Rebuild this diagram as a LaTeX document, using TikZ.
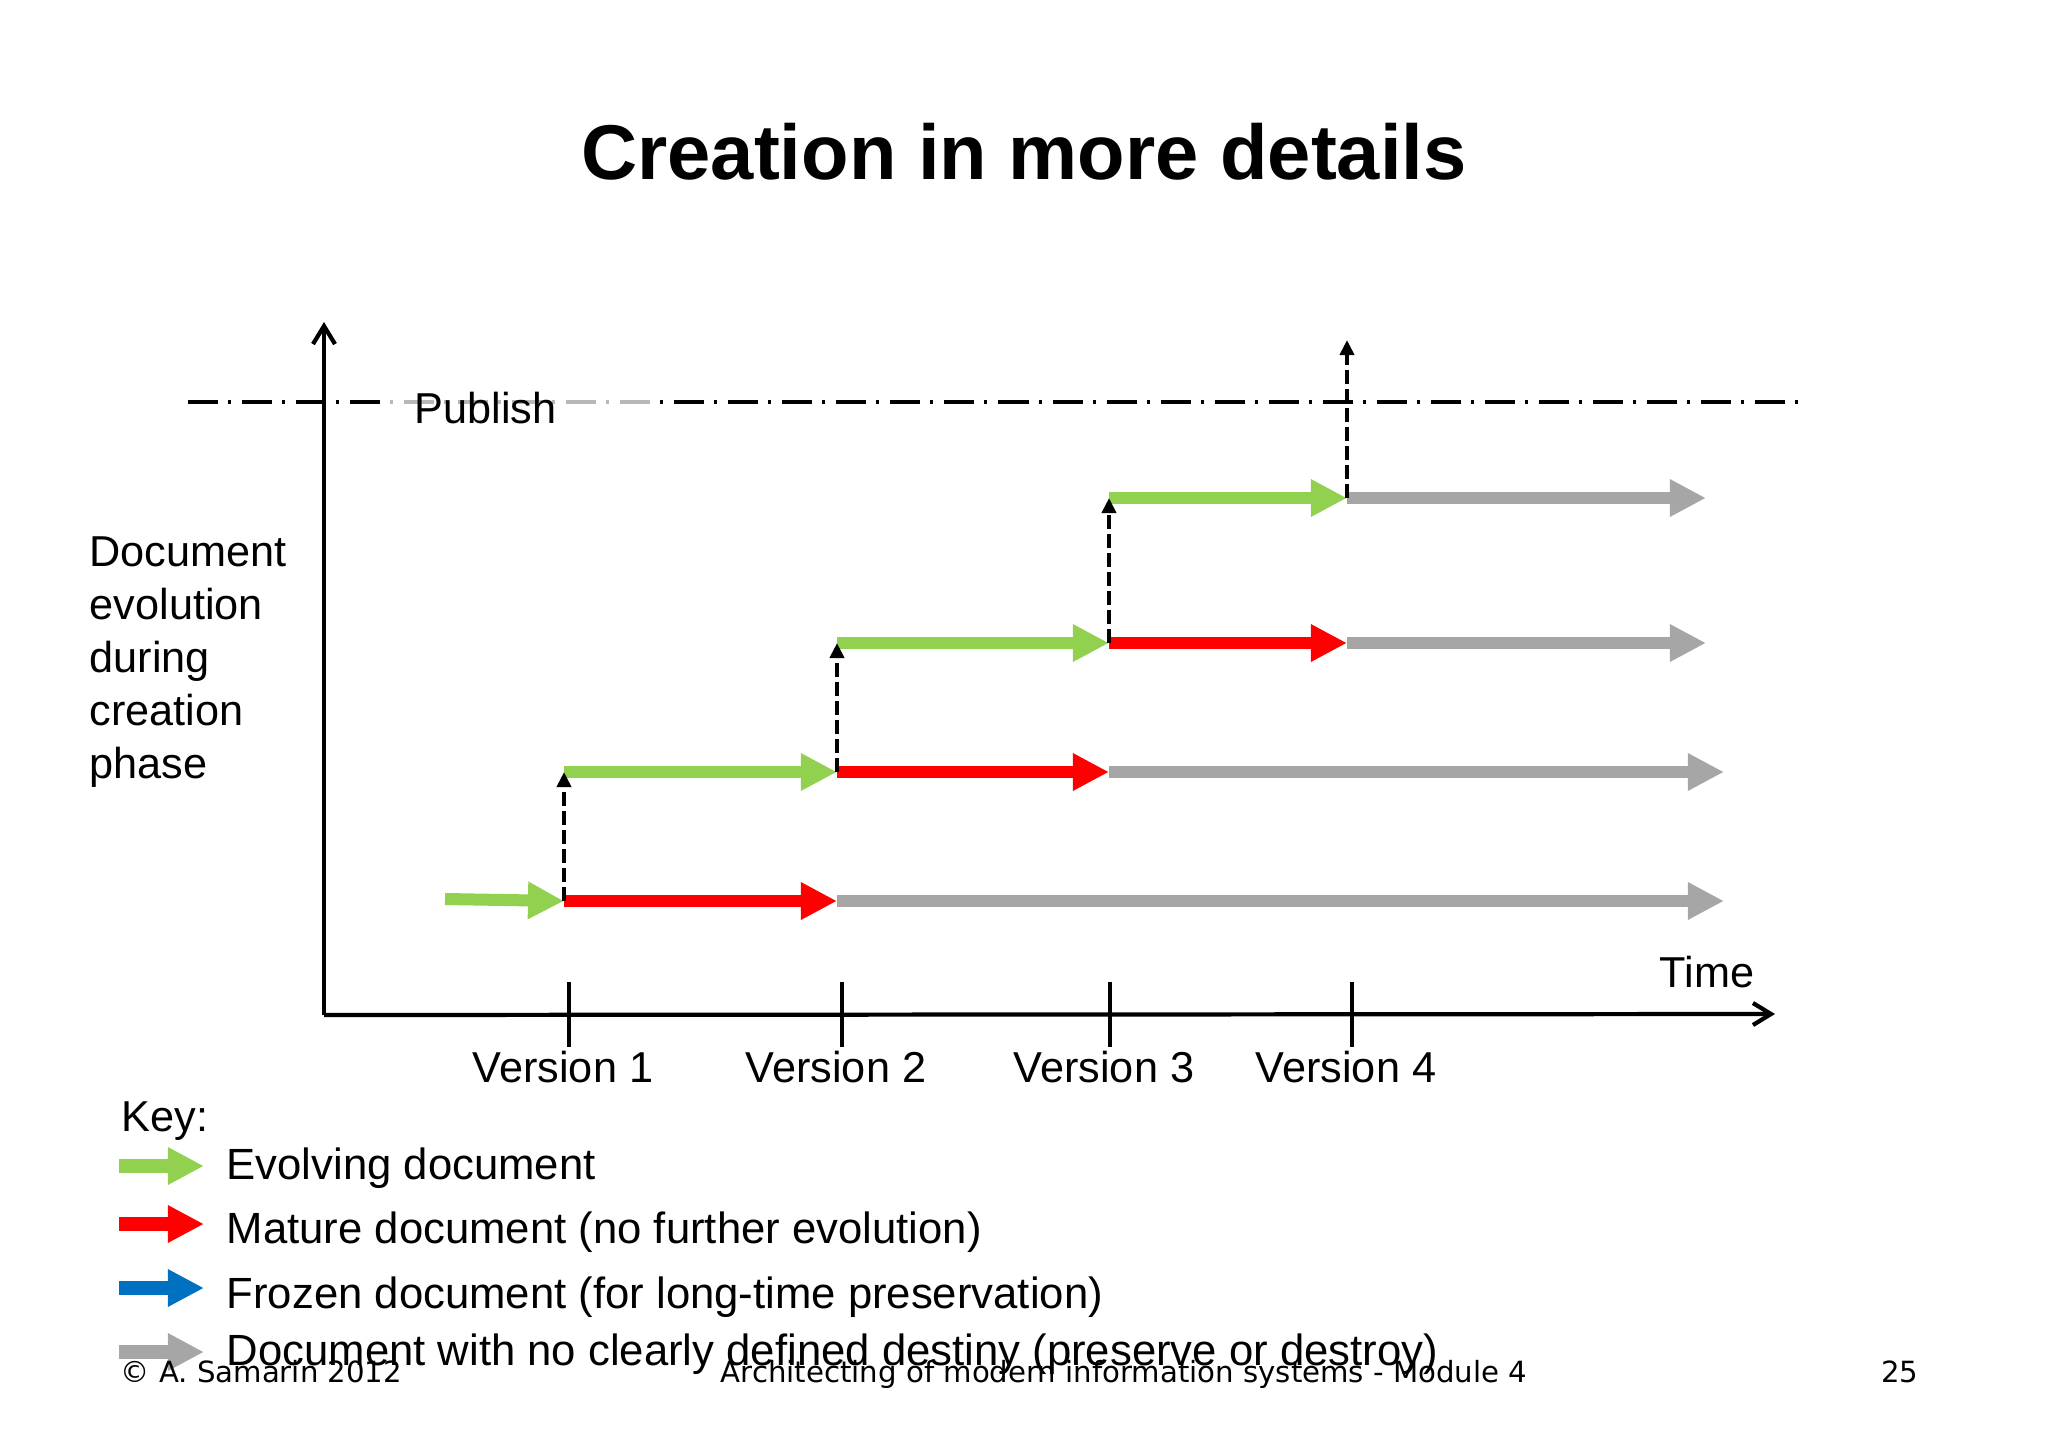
\documentclass[tikz,border=0pt]{standalone}
\usepackage{fontspec}
\setmainfont{Liberation Sans}
\newfontfamily\footfont{DejaVu Sans}
\usetikzlibrary{arrows.meta}
\definecolor{evolgreen}{HTML}{92D050}
\definecolor{maturered}{HTML}{FF0000}
\definecolor{frozenblue}{HTML}{0070C0}
\definecolor{opengray}{HTML}{A6A6A6}
\tikzset{
  phase/.style={line width=0.12cm, -{Triangle[length=0.36cm,width=0.35cm]}},
  keyarrow/.style={line width=0.14cm, -{Triangle[length=0.36cm,width=0.35cm]}},
  promote/.style={line width=1.15pt, dash pattern=on 0.14cm off 0.05cm, -{Triangle[length=0.15cm,width=0.14cm]}},
  axis/.style={line width=1.2pt, -{Straight Barb[length=0.18cm,width=0.22cm]}},
  publine/.style={line width=0.9pt, dash pattern=on 0.30cm off 0.10cm on 0.03cm off 0.11cm},
  txt/.style={inner sep=0pt, font=\fontsize{12.3}{15.1}\selectfont},
  keytxt/.style={inner sep=0pt, font=\fontsize{12.42}{15.1}\selectfont},
  foot/.style={inner sep=0pt, font=\footfont\fontsize{8.3}{10}\selectfont}
}

\begin{document}
\begin{tikzpicture}[x=0.01cm, y=-0.01cm]
\useasboundingbox (0,0) rectangle (2048,1448);
\node[anchor=base, inner sep=0pt, font=\fontsize{22.1}{26}\selectfont\bfseries] (title) at (1024,179) {Creation in more details};

\coordinate (pubL) at (188,402);
\coordinate (pubR) at (1798,402);
\draw[publine] (pubL) -- (pubR);
\fill[white, opacity=0.72] (386,395) rectangle (657,409);
\node[txt, anchor=base west] (publish) at (414,423) {Publish};

\coordinate (origin) at (324,1015);
\coordinate (ytop) at (324,322);
\coordinate (xend) at (1775,1014);
\draw[axis] (origin) -- (ytop);
\draw[axis] (origin) -- (xend);
\foreach \n/\x in {1/569,2/842,3/1110,4/1352} {
  \draw[line width=1.2pt] (\x,982) -- (\x,1047);
  \node[txt, anchor=base] (ver\n) at (\x-6,1082) {Version \n};
}
\node[txt, anchor=base west] (time) at (1659,987) {Time};
\node[txt, anchor=north west, align=left] (ylabel) at (89,536) {Document\\evolution\\during\\creation\\phase};

\coordinate (s0) at (445,899);
\coordinate (a1) at (564,901);
\coordinate (b1) at (837,901);
\coordinate (e1) at (1724,901);
\coordinate (a2) at (564,772);
\coordinate (b2) at (837,772);
\coordinate (c2) at (1109,772);
\coordinate (e2) at (1724,772);
\coordinate (b3) at (837,643);
\coordinate (c3) at (1109,643);
\coordinate (d3) at (1347,643);
\coordinate (e3) at (1706,643);
\coordinate (c4) at (1109,498);
\coordinate (d4) at (1347,498);
\coordinate (e4) at (1706,498);
\coordinate (pubtop) at (1347,340);

\draw[phase, evolgreen] (s0) -- (a1);
\draw[phase, maturered] (a1) -- (b1);
\draw[phase, opengray] (b1) -- (e1);
\draw[phase, evolgreen] (a2) -- (b2);
\draw[phase, maturered] (b2) -- (c2);
\draw[phase, opengray] (c2) -- (e2);
\draw[phase, evolgreen] (b3) -- (c3);
\draw[phase, maturered] (c3) -- (d3);
\draw[phase, opengray] (d3) -- (e3);
\draw[phase, evolgreen] (c4) -- (d4);
\draw[phase, opengray] (d4) -- (e4);

\draw[promote] (a1) -- (a2);
\draw[promote] (b2) -- (b3);
\draw[promote] (c3) -- (c4);
\draw[promote] (d4) -- (pubtop);

\node[txt, anchor=base west] (key) at (121,1131) {Key:};
\foreach \n/\y/\b/\c/\t in {
  evolve/1166/1179/evolgreen/Evolving document,
  mature/1224/1243/maturered/Mature document (no further evolution),
  frozen/1288/1308/frozenblue/Frozen document (for long-time preservation),
  open/1352/1365/opengray/Document with no clearly defined destiny (preserve or destroy)} {
  \coordinate (k\n L) at (119,\y);
  \coordinate (k\n R) at (204,\y);
  \draw[keyarrow, \c] (k\n L) -- (k\n R);
  \node[keytxt, anchor=base west] (k\n) at (226,\b) {\t};
}

\node[foot, anchor=base west] (copy) at (120,1382) {© A. Samarin 2012};
\node[foot, anchor=base] (course) at (1124,1382) {Architecting of modern information systems - Module 4};
\node[foot, anchor=base east] (page) at (1919,1382) {25};
\end{tikzpicture}
\end{document}
